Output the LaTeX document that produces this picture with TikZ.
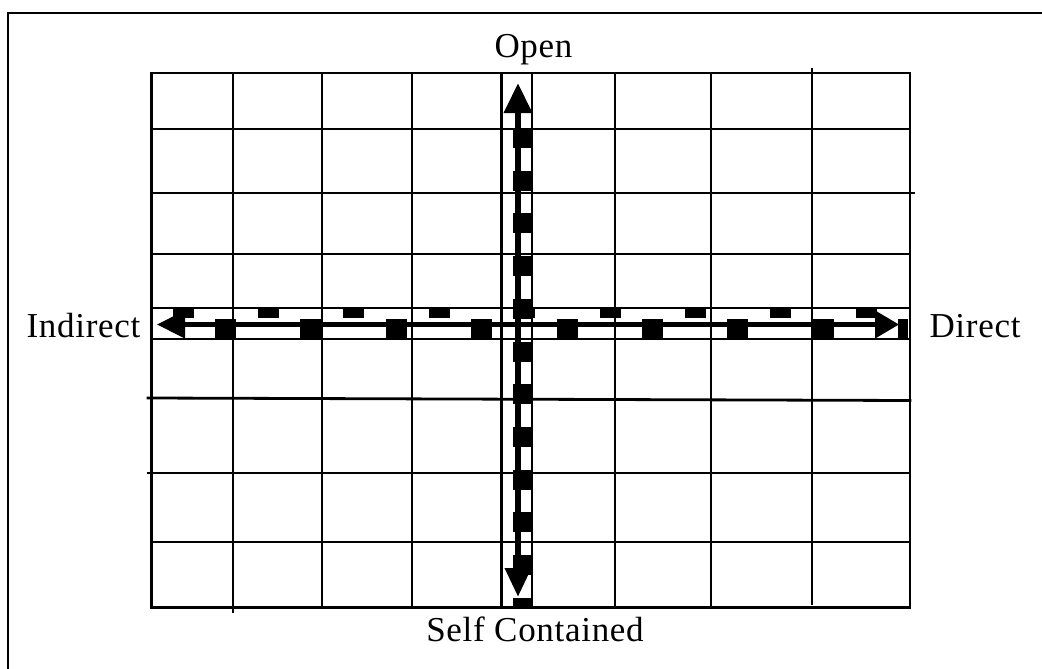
\documentclass[tikz,border=0pt]{standalone}
\usepackage{fontspec}
\setmainfont{Liberation Serif}
\newfontfamily\lblfont[LetterSpace=2]{Liberation Serif}
\usetikzlibrary{arrows.meta}
\begin{document}
\begin{tikzpicture}[x=1pt,y=-1pt,
  gridline/.style={line width=2.8pt, line cap=rect},
  frameline/.style={line width=2.7pt},
  lbl/.style={font=\lblfont\fontsize{35}{38}\selectfont, inner sep=0pt, anchor=base},
  axisline2/.style={line width=6.5pt, {Triangle[length=30pt,width=27pt]}-{Triangle[length=29pt,width=25pt]}},
  hline/.style={line width=4.5pt, {Triangle[length=28pt,width=27pt]}-{Triangle[length=24pt,width=27pt]}},
  lowblocks/.style={line width=20pt, dash pattern=on 21pt off 64.4pt},
  upblocks/.style={line width=10pt, dash pattern=on 21pt off 64.4pt},
  vblocks/.style={line width=19pt, dash pattern=on 20pt off 22.7pt}]
\path[use as bounding box, clip] (0,0) rectangle (1042,669);
% outer frame (only top and left edges visible)
\draw[frameline] (8,690) -- (8,13) -- (1070,13);
% grid
\foreach \x in {151.5,322,412,501.5,532,615,711,910}
  \draw[gridline] (\x,73) -- (\x,607.5);
\draw[gridline] (233,73) -- (233,612);
\draw[gridline] (812,69) -- (812,604);
\foreach \y in {73,129,254,308,339,542,607.5}
  \draw[gridline] (151.5,\y) -- (910,\y);
\draw[gridline] (151.5,193) -- (914,193);
\draw[gridline] (148,398) -- (910,400.5);
\draw[gridline] (148,473) -- (910,473);
% axis end points
\coordinate (W) at (157,324.5);
\coordinate (E) at (899,324.5);
\coordinate (N) at (518,83);
\coordinate (S) at (518,597);
\coordinate (lb1) at (215,329);
\coordinate (lb2) at (908,329);
\coordinate (ub1) at (172.6,313);
\coordinate (ub2) at (880,313);
\coordinate (vb1) at (522.5,128);
\coordinate (vb2) at (522.5,606.5);
% horizontal dashed arrow
\draw[lowblocks] (lb1) -- (lb2);
\draw[upblocks] (ub1) -- (ub2);
\draw[hline] (W) -- (E);
% vertical dashed arrow
\draw[vblocks] (vb1) -- (vb2);
\draw[axisline2] (N) -- (S);
% labels
\node[lbl] (open) at (533.5,58) {Open};
\node[lbl] (indirect) at (83.5,337) {Indirect};
\node[lbl] (direct) at (975,337) {Direct};
\node[lbl] (self) at (535,641) {Self Contained};
\end{tikzpicture}
\end{document}
